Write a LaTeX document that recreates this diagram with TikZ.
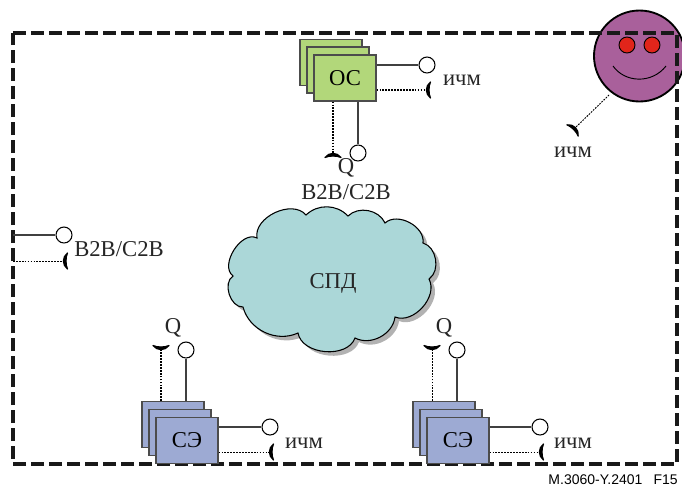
\documentclass[tikz,border=0pt]{standalone}
\usepackage{fontspec}
\setmainfont{Liberation Serif}
\setsansfont{Liberation Sans}
\definecolor{osgreen}{HTML}{B2D77A}
\definecolor{seblue}{HTML}{9DAAD3}
\definecolor{spdcyan}{HTML}{ABD7D8}
\definecolor{facepurple}{HTML}{A9609B}
\definecolor{eyered}{HTML}{E1251B}
\tikzset{
    stackbox/.style={draw=black!70, line width=0.9pt, minimum width=46.5pt, minimum height=34.5pt, inner sep=0pt, font=\fontsize{17}{20}\selectfont},
    port/.style={draw=black, fill=white, circle, line width=0.8pt, minimum size=12pt, inner sep=0pt},
    lbl/.style={inner sep=0pt, text=black!85, font=\fontsize{17}{20}\selectfont},
    solidlink/.style={draw=black!75, line width=0.8pt},
    dottedlink/.style={draw=black, line width=1pt, dash pattern=on 1.3pt off 0.9pt},
    thinlink/.style={draw=black, line width=0.7pt, dash pattern=on 1.3pt off 0.9pt},
    cupend/.pic={\filldraw[black, line width=0.9pt, line join=round] (-8,3.5) .. controls (-4,-2) and (4,-2) .. (8,3.5) .. controls (4,1.5) and (-4,1.5) .. (-8,3.5) -- cycle;}
}
\newcommand{\cloudpath}{(306,215) to[bend left=45] (348,216) to[bend left=55] (385,223) to[bend left=70] (423,243) to[bend left=65] (429,279) to[bend left=70] (395,317) to[bend left=55] (355,338) to[bend left=75] (298,333) to[bend left=50] (243,307) to[bend left=75] (233,276) to[bend left=85] (257,238) to[bend left=75] (306,215) -- cycle}
\begin{document}
\begin{tikzpicture}[x=0.75pt, y=-0.75pt]
    \useasboundingbox (0,0) rectangle (682,486);
    % face
    \draw[fill=facepurple, line width=1.4pt] (639.5,56) circle (45.5);
    \draw[fill=eyered, line width=0.7pt] (627,45) circle (8);
    \draw[fill=eyered, line width=0.7pt] (652,45) circle (8);
    \draw[line width=0.7pt] (613,66) .. controls (625,83) and (652,84) .. (666,66);
    \draw[line width=2.3pt, black!90, dash pattern=on 9.5pt off 4pt] (13,33) -- (677,33) -- (677,464) -- (13,464) -- cycle;
    % cloud
    \fill[black!30, xshift=3pt, yshift=-3pt] \cloudpath;
    \draw[fill=spdcyan, line width=0.8pt] \cloudpath;
    \node[lbl] (spd) at (333,283) {СПД};
    % OS
    \node[stackbox, fill=osgreen] (osback) at (331,62.5) {};
    \node[stackbox, fill=osgreen] (osmid) at (338,70) {};
    \node[stackbox, fill=osgreen] (osbox) at (345,78) {ОС};
    \node[port] (osright) at (427,65) {};
    \node[port] (osdown) at (358,153) {};
    \coordinate (osrightcup) at (427,90);
    \coordinate (osdowncup) at (333,154);
    \draw[solidlink] (osbox.east |- osright) -- (osright);
    \draw[solidlink] (osbox.south -| osdown) -- (osdown);
    \draw[dottedlink] (osbox.east |- osrightcup) -- (osrightcup);
    \draw[dottedlink] (osbox.south -| osdowncup) -- (osdowncup);
    \pic[rotate=90] at (osrightcup) {cupend};
    \pic at (osdowncup) {cupend};
    \node[lbl] (osich) at (462,80) {ичм};
    \node[lbl] (osq) at (346,168) {Q};
    \node[lbl] (osb) at (346,192) {B2B/C2B};
    % user
    \coordinate (facerim) at (609,95);
    \coordinate (facecup) at (575,128);
    \draw[thinlink] (facerim) -- (facecup);
    \pic[rotate=-45] at (facecup) {cupend};
    \node[lbl] (faceich) at (573,152) {ичм};
    % left edge
    \coordinate (leftsolid) at (13,235);
    \coordinate (leftdot) at (13,261);
    \node[port] (leftport) at (64,235) {};
    \coordinate (leftcup) at (64,261);
    \draw[solidlink] (leftsolid) -- (leftport);
    \draw[thinlink] (leftdot) -- (leftcup);
    \pic[rotate=90] at (leftcup) {cupend};
    \node[lbl] (leftb) at (119,249) {B2B/C2B};
    % first SE
    \node[stackbox, fill=seblue] (seaback) at (173,424.5) {};
    \node[stackbox, fill=seblue] (seamid) at (180,432.5) {};
    \node[stackbox, fill=seblue] (seabox) at (187,440.5) {СЭ};
    \node[port] (seaup) at (186,350) {};
    \node[port] (searight) at (270,427) {};
    \coordinate (seaupcup) at (161,349);
    \coordinate (searightcup) at (270,452);
    \draw[solidlink] (seaback.north -| seaup) -- (seaup);
    \draw[dottedlink] (seaback.north -| seaupcup) -- (seaupcup);
    \draw[solidlink] (seabox.east |- searight) -- (searight);
    \draw[thinlink] (seabox.east |- searightcup) -- (searightcup);
    \pic[rotate=180] at (seaupcup) {cupend};
    \pic[rotate=90] at (searightcup) {cupend};
    \node[lbl] (seaq) at (173,328) {Q};
    \node[lbl] (seaich) at (304,443) {ичм};
    % second SE
    \node[stackbox, fill=seblue] (sebback) at (444,424.5) {};
    \node[stackbox, fill=seblue] (sebmid) at (451,432.5) {};
    \node[stackbox, fill=seblue] (sebbox) at (458,440.5) {СЭ};
    \node[port] (sebup) at (457,350) {};
    \node[port] (sebright) at (540,427) {};
    \coordinate (sebupcup) at (432,349);
    \coordinate (sebrightcup) at (540,452);
    \draw[solidlink] (sebback.north -| sebup) -- (sebup);
    \draw[thinlink] (sebback.north -| sebupcup) -- (sebupcup);
    \draw[solidlink] (sebbox.east |- sebright) -- (sebright);
    \draw[thinlink] (sebbox.east |- sebrightcup) -- (sebrightcup);
    \pic[rotate=180] at (sebupcup) {cupend};
    \pic[rotate=90] at (sebrightcup) {cupend};
    \node[lbl] (sebq) at (444,328) {Q};
    \node[lbl] (sebich) at (573,443) {ичм};
    % figure number
    \node[inner sep=0pt, anchor=east, font=\sffamily\fontsize{10.5}{12}\selectfont] (fignum) at (678,480) {M.3060-Y.2401\hspace{0.8em}F15};
\end{tikzpicture}
\end{document}
